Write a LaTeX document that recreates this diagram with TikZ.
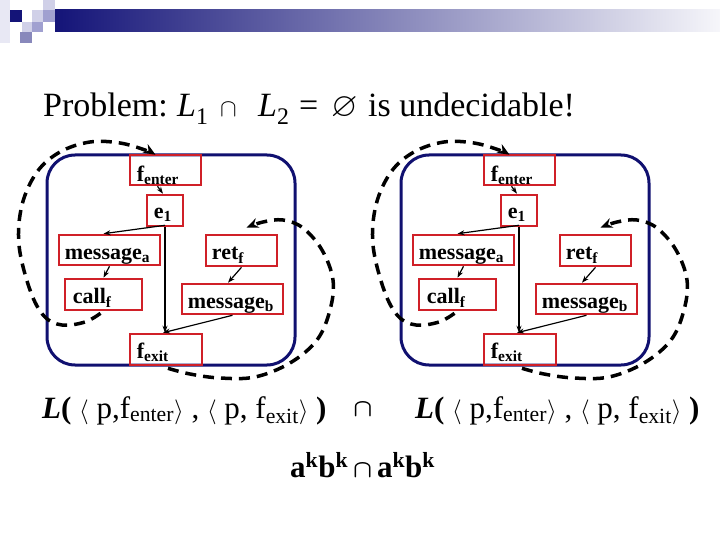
\documentclass[tikz,border=0pt]{standalone}
\usepackage{amsmath}
\usepackage{amssymb}
\usepackage{fontspec}
\setmainfont{Liberation Serif}
\usetikzlibrary{calc,arrows.meta}
\definecolor{boxred}{RGB}{208,32,40}
\definecolor{navy}{RGB}{16,16,112}
\definecolor{barnavy}{RGB}{20,20,120}
\definecolor{barend}{RGB}{246,246,250}
\definecolor{sqA}{RGB}{232,232,244}
\definecolor{sqB}{RGB}{208,208,232}
\definecolor{sqC}{RGB}{160,160,208}
\definecolor{sqD}{RGB}{136,136,187}
\tikzset{
  box/.style={draw=boxred,line width=2.6pt,inner sep=0pt},
  panel/.style={draw=navy,line width=3pt,rounded corners=28pt,inner sep=0pt,minimum width=248pt,minimum height=210pt},
  lbl/.style={inner sep=0pt,font=\fontsize{22}{26}\selectfont\bfseries},
  flow/.style={line width=1.2pt,-{Stealth[length=7pt,width=5pt]}},
  loop/.style={line width=3.5pt,dash pattern=on 11pt off 7pt,-{Stealth[length=12pt,width=10pt]}},
  big/.style={inner sep=0pt,font=\fontsize{31}{37}\selectfont},
  ttl/.style={inner sep=0pt,anchor=base west,font=\fontsize{34}{40}\selectfont},
}
\begin{document}
\begin{tikzpicture}[x=1pt,y=-1pt]
\useasboundingbox (0,0) rectangle (720,540);
% decoration
\fill[sqA] (0,0) rectangle (10,43);
\fill[sqB] (32,10) rectangle (43,22);
\fill[sqB] (43,0) rectangle (55,10);
\fill[sqC] (43,10) rectangle (55,22);
\fill[sqB] (22,22) rectangle (32,32);
\fill[sqC] (32,22) rectangle (43,32);
\fill[sqD] (20,32) rectangle (32,43);
\fill[barnavy] (10,10) rectangle (22,22);
\shade[left color=barnavy,right color=barend] (55,10) rectangle (720,32);
% title
\node[ttl] (t1) at (43,117) {Problem:};
\node[ttl] (t2) at (177,117) {\textit{L}\textsubscript{1}};
\node[ttl] (t3) at (220,117) {$\cap$};
\node[ttl] (t4) at (258,117) {\textit{L}\textsubscript{2}};
\node[ttl] (t5) at (299,117) {=};
\node[ttl] (t6) at (331,117) {$\varnothing$};
\node[ttl] (t7) at (368,117) {is undecidable!};
% panels
\foreach \dx/\p in {0/A,354/B}{
\begin{scope}[xshift=\dx]
  \node[panel] (pan\p) at (171,260) {};
  \node[box,minimum width=71pt,minimum height=30pt] (fen\p) at (165.5,170) {};
  \node[box,minimum width=36pt,minimum height=31pt] (e\p) at (165,210.5) {};
  \node[box,minimum width=101pt,minimum height=30pt] (ma\p) at (109.5,250) {};
  \node[box,minimum width=77pt,minimum height=31pt] (c\p) at (103.5,294.5) {};
  \node[box,minimum width=71pt,minimum height=31pt] (r\p) at (241.5,250.5) {};
  \node[box,minimum width=101pt,minimum height=30pt] (mb\p) at (232.5,299) {};
  \node[box,minimum width=72pt,minimum height=31pt] (fx\p) at (166,349.5) {};
  \node[lbl,anchor=base west] (fenT\p) at ($(fen\p.south west)+(8,-5)$) {f\textsubscript{enter}};
  \node[lbl,anchor=base west] (eT\p) at ($(e\p.south west)+(8,-9)$) {e\textsubscript{1}};
  \node[lbl,anchor=base west] (maT\p) at ($(ma\p.south west)+(7,-7)$) {message\textsubscript{a}};
  \node[lbl,anchor=base west] (cT\p) at ($(c\p.south west)+(9,-8)$) {call\textsubscript{f}};
  \node[lbl,anchor=base west] (rT\p) at ($(r\p.south west)+(7,-8)$) {ret\textsubscript{f}};
  \node[lbl,anchor=base west] (mbT\p) at ($(mb\p.south west)+(7,-7)$) {message\textsubscript{b}};
  \node[lbl,anchor=base west] (fxT\p) at ($(fx\p.south west)+(8,-8)$) {f\textsubscript{exit}};
  \draw[flow] ($(fen\p.south)+(-8,0)$) -- ($(e\p.north)+(-2,0)$);
  \draw[flow] ($(e\p.south)+(0,-2)$) -- ($(ma\p.north)+(-6,0)$);
  \draw[flow] (e\p.south) -- (e\p.south |- fx\p.north);
  \draw[flow] (ma\p.south) -- (c\p.north);
  \draw[flow] (r\p.south) -- ($(mb\p.north)+(-4.5,0)$);
  \draw[flow] (mb\p.south) -- ($(fx\p.north)+(-3,0)$);
  \draw[loop] plot[smooth,tension=0.6] coordinates {($(c\p.south)+(-3,2)$) (85,322) (62,325) (44,316) (30,290) (19,245) (22,205) (37,172) (60,152) (90,142) (120,143) (145,150) ($(fen\p.north)+(-10,1)$)};
  \draw[loop] plot[smooth,tension=0.6] coordinates {($(fx\p.south)+(2,2)$) (190,374) (220,378) (255,377) (290,363) (317,340) (330,310) (333,280) (322,250) (303,228) (283,220) (263,222) ($(r\p.north)+(5,-6)$)};
\end{scope}
}
% bottom formulas
\node[big,anchor=base west] (LA) at (42,418)
  {\textbf{\textit{L}(} $\langle$ p,f\textsubscript{enter}$\rangle$ , $\langle$ p, f\textsubscript{exit}$\rangle$ \textbf{)}};
\node[big,anchor=base west] (LB) at (415,418)
  {\textbf{\textit{L}(} $\langle$ p,f\textsubscript{enter}$\rangle$ , $\langle$ p, f\textsubscript{exit}$\rangle$ \textbf{)}};
\node[big,anchor=base] (capmid) at (363,416) {$\boldsymbol{\cap}$};
\node[big,anchor=base west] (akbk) at (290,477)
  {\textbf{a\textsuperscript{k}b\textsuperscript{k}}\hspace{5pt}$\boldsymbol{\cap}$\hspace{5pt}\textbf{a\textsuperscript{k}b\textsuperscript{k}}};
\end{tikzpicture}
\end{document}
